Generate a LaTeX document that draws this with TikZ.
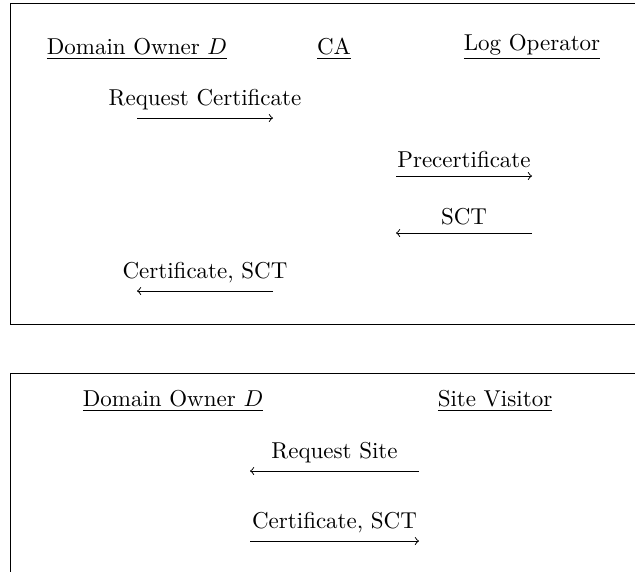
\documentclass[tikz,border=0pt]{standalone}
\begin{document}
\begin{tikzpicture}[x=0.435pt, y=-0.435pt,
                    party/.style={anchor=south, inner sep=0pt},
                    msg/.style={->}]
  \clip (0,0) rectangle (635,571);

  % issuing the certificate
  \draw (660,3) -- (10,3) -- (10,324) -- (660,324);
  \node[party] (1) at (137,60) {\underline{Domain Owner $D$}};
  \node[party] (2) at (334,60) {\underline{CA}};
  \node[party] (3) at (532,60) {\underline{Log Operator}};

  \coordinate (d1) at (137,118); \coordinate (c1) at (273,118);
  \coordinate (c2) at (396,176); \coordinate (l2) at (532,176);
  \coordinate (c3) at (396,233); \coordinate (l3) at (532,233);
  \coordinate (d4) at (137,291); \coordinate (c4) at (273,291);

  \draw[msg] (d1) -- node[above] {Request Certificate} (c1);
  \draw[msg] (c2) -- node[above] {Precertificate} (l2);
  \draw[msg] (l3) -- node[above] {SCT} (c3);
  \draw[msg] (c4) -- node[above] {Certificate, SCT} (d4);

  % visiting the site
  \draw (660,373) -- (10,373) -- (10,590);
  \node[party] (4) at (173,412) {\underline{Domain Owner $D$}};
  \node[party] (5) at (495,412) {\underline{Site Visitor}};

  \coordinate (d5) at (250,471); \coordinate (v5) at (419,471);
  \coordinate (d6) at (250,541); \coordinate (v6) at (419,541);

  \draw[msg] (v5) -- node[above] {Request Site} (d5);
  \draw[msg] (d6) -- node[above] {Certificate, SCT} (v6);
\end{tikzpicture}
\end{document}
